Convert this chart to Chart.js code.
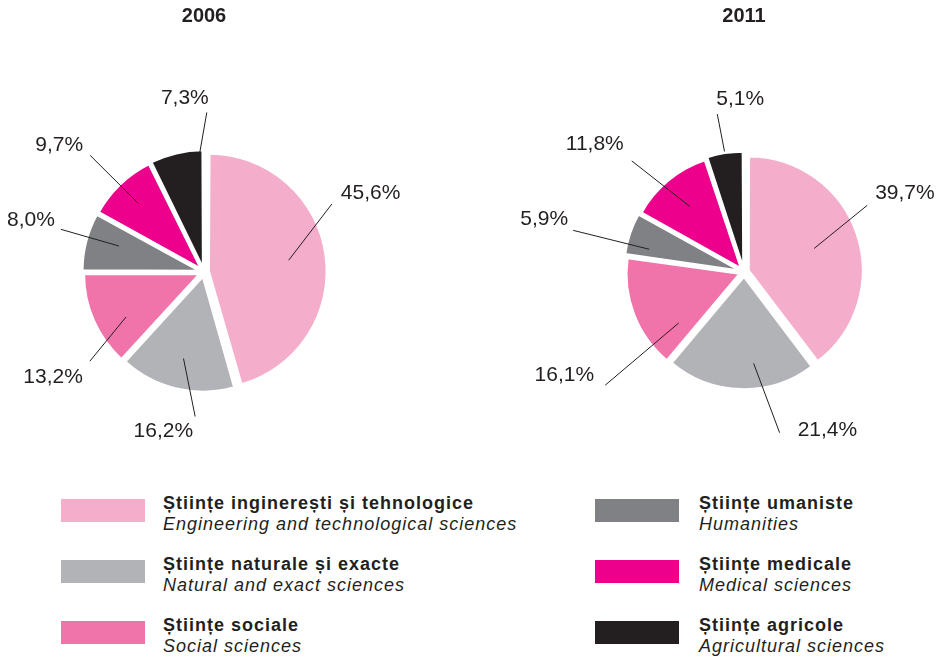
<!DOCTYPE html>
<html lang="ro">
<head>
  <meta charset="UTF-8">
  <title>Științe 2006 / 2011</title>
  <script src="https://cdn.jsdelivr.net/npm/chart.js"></script>
  <style>
    body { margin: 0; background: #fff; font-family: "Liberation Sans", Arial, Helvetica, sans-serif; color: #231f20; }
    #page { position: relative; width: 942px; height: 660px; overflow: hidden; }
    canvas { position: absolute; top: 0; }
    #c2006 { left: 0; }
    #c2011 { left: 470px; }
    .legend-col { position: absolute; top: 493px; }
    .item { display: flex; height: 61px; }
    .sw { width: 84px; height: 23px; margin-top: 6px; flex: none; }
    .txt { font-size: 18px; line-height: 21px; letter-spacing: 1px; white-space: nowrap; }
    .txt b { display: block; font-weight: bold; }
    .txt i { display: block; font-style: italic; }
  </style>
</head>
<body>
<div id="page">
  <canvas id="c2006" width="470" height="470"></canvas>
  <canvas id="c2011" width="470" height="470"></canvas>
  <div class="legend-col" id="legLeft" style="left:61px"></div>
  <div class="legend-col" id="legRight" style="left:595px"></div>
</div>

<script>
  // categories (ro / en)
  const categoriesRo = ['Științe inginerești și tehnologice', 'Științe naturale și exacte', 'Științe sociale',
                        'Științe umaniste', 'Științe medicale', 'Științe agricole'];
  const categoriesEn = ['Engineering and technological sciences', 'Natural and exact sciences', 'Social sciences',
                        'Humanities', 'Medical sciences', 'Agricultural sciences'];
  const colors = ['#f4aecb', '#b2b3b7', '#f074aa', '#808185', '#ec008c', '#231f20'];

  // shares, %
  const values2006 = [45.6, 16.2, 13.2, 8.0, 9.7, 7.3];
  const values2011 = [39.7, 21.4, 16.1, 5.9, 11.8, 5.1];

  // leader lines: ia = inner angle (deg from top, default mid), ir/or = radius factors,
  // oa = outer angle, tx/ty = text offset from line end
  const leaders2006 = [
    { ir: 0.75, oa: 62, or: 1.27, tx: 9, ty: -11, align: 'left' },
    { ir: 0.78, oa: 183.5, or: 1.27, tx: -2, ty: 15, align: 'right' },
    { ia: 240, ir: 0.79, oa: 232, or: 1.27, tx: -7, ty: 16, align: 'right' },
    { ia: 287, ir: 0.78, oa: 286.6, or: 1.31, tx: -6, ty: -9, align: 'right' },
    { ir: 0.83, oa: 315.7, or: 1.43, tx: -7, ty: -10, align: 'right' },
    { ia: 358, ir: 1.05, oa: 1, or: 1.40, tx: 2, ty: -14, align: 'right' }
  ];
  const leaders2011 = [
    { ir: 0.66, oa: 61.6, or: 1.25, tx: 8, ty: -12, align: 'left' },
    { ia: 174, ir: 0.82, oa: 167.5, or: 1.47, tx: 18, ty: -3, align: 'left' },
    { ia: 232, ir: 0.74, oa: 230.8, or: 1.6, tx: -11, ty: -10, align: 'right' },
    { ia: 283.5, ir: 0.87, oa: 283.7, or: 1.57, tx: -5, ty: -11, align: 'right' },
    { ir: 0.76, oa: 314.7, or: 1.41, tx: -8, ty: -17, align: 'right' },
    { ir: 1.09, oa: 350.4, or: 1.43, tx: -1, ty: -15, align: 'left' }
  ];

  const fontFam = '"Liberation Sans", Arial, Helvetica, sans-serif';

  const leaderLabels = {
    id: 'leaderLabels',
    afterDatasetsDraw(chart, args, opts) {
      const ctx = chart.ctx;
      const meta = chart.getDatasetMeta(0);
      const data = chart.data.datasets[0].data;
      const rad = d => d * Math.PI / 180 - Math.PI / 2;
      ctx.save();
      ctx.strokeStyle = '#231f20';
      ctx.lineWidth = 1;
      ctx.fillStyle = '#231f20';
      ctx.font = '21px ' + fontFam;
      ctx.textBaseline = 'middle';
      meta.data.forEach((arc, i) => {
        const p = arc.getProps(['x', 'y', 'startAngle', 'endAngle', 'outerRadius'], true);
        const s = opts.leaders[i];
        const ai = s.ia !== undefined ? rad(s.ia) : (p.startAngle + p.endAngle) / 2;
        const ao = rad(s.oa);
        const x1 = p.x + Math.cos(ai) * p.outerRadius * s.ir;
        const y1 = p.y + Math.sin(ai) * p.outerRadius * s.ir;
        const x2 = p.x + Math.cos(ao) * p.outerRadius * s.or;
        const y2 = p.y + Math.sin(ao) * p.outerRadius * s.or;
        ctx.beginPath();
        ctx.moveTo(x1, y1);
        ctx.lineTo(x2, y2);
        ctx.stroke();
        ctx.textAlign = s.align;
        ctx.fillText(data[i].toFixed(1).replace('.', ',') + '%', x2 + s.tx, y2 + s.ty);
      });
      ctx.restore();
    }
  };

  function makePie(id, title, values, leaders, radius, padding) {
    return new Chart(document.getElementById(id), {
      type: 'pie',
      data: {
        labels: categoriesRo,
        datasets: [{
          data: values,
          backgroundColor: colors,
          borderColor: '#ffffff',
          borderWidth: 2,
          offset: 20,
          hoverOffset: 0,
          radius: radius
        }]
      },
      options: {
        responsive: false,
        animation: false,
        events: [],
        layout: { padding: padding },
        plugins: {
          legend: { display: false },
          tooltip: { enabled: false },
          title: {
            display: true,
            text: title,
            color: '#231f20',
            font: { family: fontFam, size: 20, weight: 'bold' },
            padding: { top: 4, bottom: 46 }
          },
          leaderLabels: { leaders: leaders }
        }
      },
      plugins: [leaderLabels]
    });
  }

  makePie('c2006', '2006', values2006, leaders2006, 114, { left: 0, right: 62, top: 0, bottom: 0 });
  makePie('c2011', '2011', values2011, leaders2011, 112, { left: 78, right: 0, top: 0, bottom: 0 });

  // legend
  function legendItem(i, gap) {
    return '<div class="item"><div class="sw" style="background:' + colors[i] + '"></div>' +
      '<div class="txt" style="margin-left:' + gap + 'px"><b>' + categoriesRo[i] + '</b><i>' +
      categoriesEn[i] + '</i></div></div>';
  }
  document.getElementById('legLeft').innerHTML = [0, 1, 2].map(i => legendItem(i, 18)).join('');
  document.getElementById('legRight').innerHTML = [3, 4, 5].map(i => legendItem(i, 20)).join('');
</script>
</body>
</html>
